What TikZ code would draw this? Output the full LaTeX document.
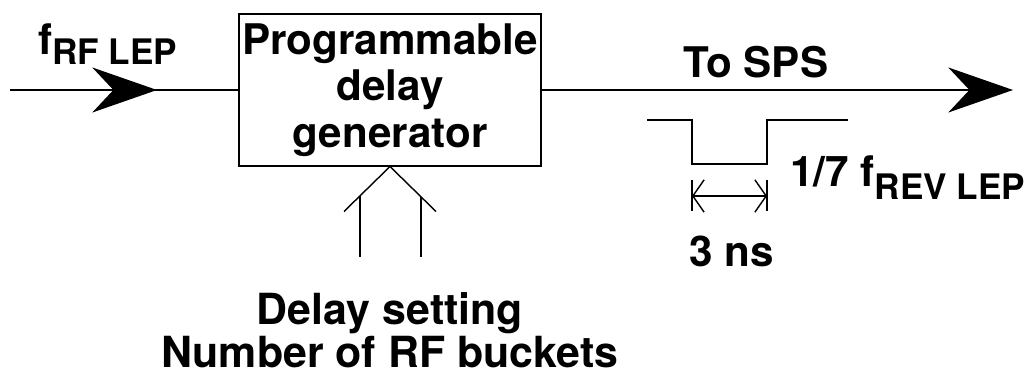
\documentclass[tikz,border=0pt]{standalone}
\usepackage{fontspec}
\setmainfont{TeX Gyre Heros}
\usetikzlibrary{arrows.meta,positioning}

\newcommand{\lowsub}[2][8pt]{\raisebox{-#1}{\fontsize{25}{25}\selectfont #2}}

\begin{document}
\begin{tikzpicture}[x=0.025cm, y=-0.025cm, font=\bfseries\fontsize{30}{33}\selectfont,
        signal/.style={line width=1.4pt},
        bigtip/.style={-{Stealth[length=46pt, width=32pt, inset=15pt]}},
        thinline/.style={line width=1pt},
        barb/.style={{Straight Barb[length=8pt, width=23pt]}-{Straight Barb[length=8pt, width=23pt]}}]
        \useasboundingbox (0,0) rectangle (1025,379);

        % Nodes
        \node (gen) [rectangle, draw, line width=1.4pt, minimum width=7.55cm, minimum height=3.775cm, align=center, inner sep=0pt] at (390,90) {Programmable\\delay\\generator};
        \node (setting) [below of=gen, node distance=6.0cm, align=center, font=\bfseries\fontsize{30.5}{30.6}\selectfont] {Delay setting\\Number of RF buckets};
        \node (frf) [anchor=base west, inner sep=0pt] at (38,55) {f\lowsub[7pt]{RF LEP}};
        \node (tosps) [anchor=base, inner sep=0pt] at (756,78) {To SPS};
        \node (ratio) [anchor=base west, inner sep=0pt] at (790,187) {1/7 f\lowsub[9pt]{REV LEP}};
        \node (width) [anchor=base, inner sep=0pt] at (732,267) {3 ns};
        \coordinate (in) at (10,90);
        \coordinate (out) at (1013,90);
        \coordinate (tip) at (gen.south);

        % Edges
        \draw[signal] (in) -- (gen);
        \draw[signal, bigtip] (in) -- (157,90);
        \draw[signal, bigtip] (gen) -- (out);
        \draw[thinline] (tip) ++(-46,45) -- (tip) -- ++(46,45);
        \draw[thinline] (tip) ++(-30,90) -- ++(0,-61);
        \draw[thinline] (tip) ++(31,90) -- ++(0,-60);

        % Pulse
        \draw[line width=1.2pt] (647,120) -| (692,164) -| (767,120) -- (848,120);
        \draw[thinline] (692,180) -- (692,211) (767,180) -- (767,211);
        \draw[thinline, barb] (692,196) -- (767,196);
    \end{tikzpicture}
\end{document}
